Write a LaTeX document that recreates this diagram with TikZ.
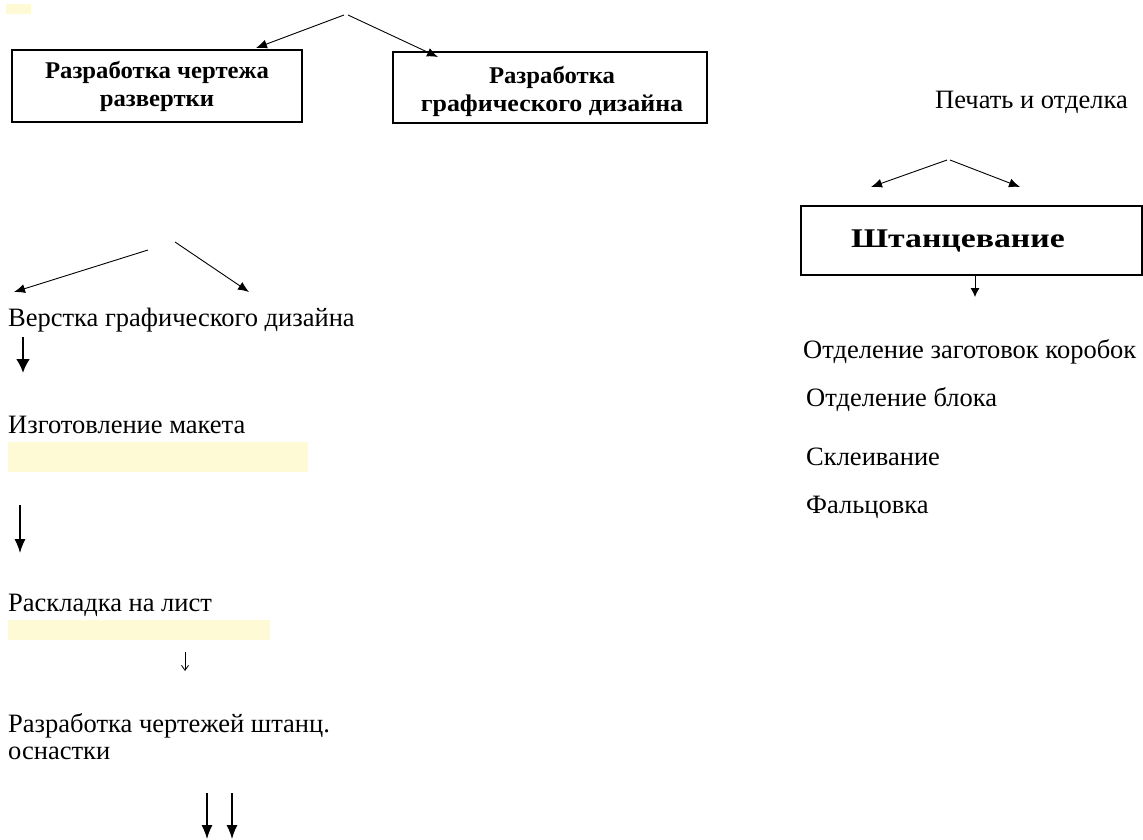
\documentclass[tikz,border=0pt]{standalone}
\usepackage{fontspec}
\setmainfont{Liberation Serif}
\usetikzlibrary{arrows.meta}
\definecolor{paleyellow}{HTML}{FFFAD6}
\newcommand{\wide}[2]{\scalebox{#1}[1]{#2}}
\tikzset{
  txt/.style={anchor=west, inner sep=0pt, font=\fontsize{26.5}{27}\selectfont},
  boxtxt/.style={inner sep=0pt, font=\fontsize{24}{28}\selectfont\bfseries, align=center},
  frame/.style={draw, line width=1.2pt},
  arr/.style={line width=0.9pt, -{Latex[length=11pt,width=9pt]}},
  thinarr/.style={line width=0.9pt, -{Latex[length=9pt,width=9pt]}},
  thickarr/.style={line width=2.5pt, -{Latex[length=14pt,width=14pt]}},
  longarr/.style={line width=1.2pt, -{Latex[length=14pt,width=11pt]}}
}
\begin{document}
\begin{tikzpicture}[x=1pt,y=-1pt]
\useasboundingbox (0,0) rectangle (1143,839);
% highlights
\fill[paleyellow] (6,4) rectangle (31,14);
\fill[paleyellow] (8,442) rectangle (308,472);
\fill[paleyellow] (8,620) rectangle (270,640);
% top boxes
\draw[frame] (12,50) rectangle (302,122);
\node[boxtxt] (b1) at (157,86) {\wide{1.03}{Разработка чертежа}\\\wide{1.03}{развертки}};
\draw[frame] (393,52) rectangle (707,123);
\node[boxtxt] (b2) at (552,91) {\wide{1.03}{Разработка}\\\wide{1.08}{графического дизайна}};
\coordinate (t0) at (344,15);
\coordinate (t1) at (348,15);
\coordinate (tl) at (256,48);
\coordinate (tr) at (438,57);
\draw[arr] (t0) -- (tl);
\draw[arr] (t1) -- (tr);
% right column
\node[txt] (pech) at (935,102) {Печать и отделка};
\coordinate (r0) at (947,160);
\coordinate (r0b) at (950,160);
\coordinate (rl) at (871,187);
\coordinate (rr) at (1020,187);
\draw[arr] (r0) -- (rl);
\draw[arr] (r0b) -- (rr);
\draw[frame] (801,206) rectangle (1142,275);
\node[inner sep=0pt, font=\fontsize{27}{28}\selectfont\bfseries] (sht) at (958,241) {\wide{1.25}{Штанцевание}};
\coordinate (s1) at (975,275);
\coordinate (s2) at (975,297);
\draw[thinarr] (s1) -- (s2);
\node[txt] (o1) at (803,352) {Отделение заготовок коробок};
\node[txt] (o2) at (806,400) {Отделение блока};
\node[txt] (o3) at (806,457) {Склеивание};
\node[txt] (o4) at (806,507) {Фальцовка};
% left column
\coordinate (l0) at (148,250);
\coordinate (l1) at (14,292);
\coordinate (l2) at (175,242);
\coordinate (l3) at (249,292);
\draw[arr] (l0) -- (l1);
\draw[arr] (l2) -- (l3);
\node[txt] (v1) at (8,320) {Верстка графического дизайна};
\coordinate (a1) at (23,337);
\coordinate (a2) at (23,373);
\draw[thickarr] (a1) -- (a2);
\node[txt] (v2) at (8,425) {Изготовление макета};
\coordinate (a3) at (20,505);
\coordinate (a4) at (20,553);
\draw[longarr] (a3) -- (a4);
\node[txt] (v3) at (8,605) {Раскладка на лист};
\coordinate (a5) at (185,652);
\coordinate (a6) at (185,671);
\draw[line width=0.8pt, -{Straight Barb[length=5pt,width=7pt]}] (a5) -- (a6);
\node[txt, align=left] (v4) at (8,736.5) {Разработка чертежей штанц.\\оснастки};
\coordinate (a7) at (207,793);
\coordinate (a8) at (207,839);
\coordinate (a9) at (232,793);
\coordinate (a10) at (232,839);
\draw[longarr] (a7) -- (a8);
\draw[longarr] (a9) -- (a10);
\end{tikzpicture}
\end{document}
